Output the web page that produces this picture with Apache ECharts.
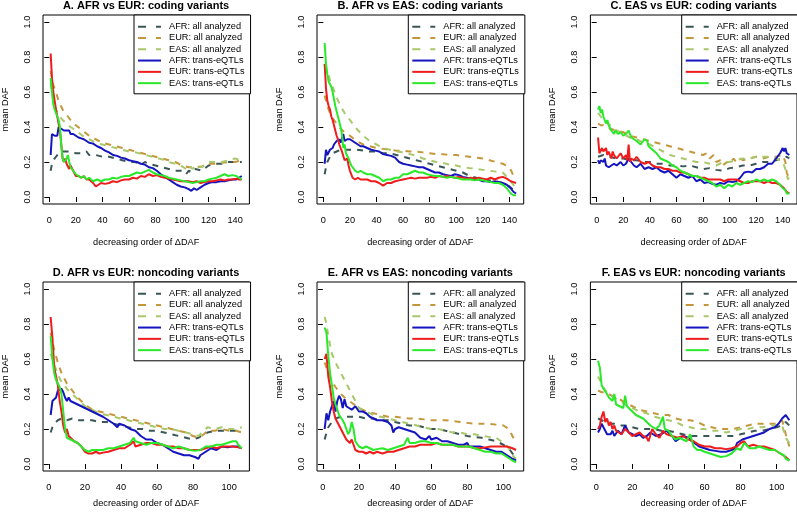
<!DOCTYPE html>
<html><head><meta charset="utf-8">
<script src="https://cdn.jsdelivr.net/npm/echarts@6/dist/echarts.min.js"></script>
<style>html,body{margin:0;padding:0;background:#fff}#c{width:797px;height:514px}</style>
</head><body><div id="c"></div>
<script>
// ---------- labels ----------
const titles = ['A. AFR vs EUR: coding variants','B. AFR vs EAS: coding variants','C. EAS vs EUR: coding variants',
  'D. AFR vs EUR: noncoding variants','E. AFR vs EAS: noncoding variants','F. EAS vs EUR: noncoding variants'];
const seriesNames = ['AFR: all analyzed','EUR: all analyzed','EAS: all analyzed','AFR: trans-eQTLs','EUR: trans-eQTLs','EAS: trans-eQTLs'];
const xTicksCoding = [0,20,40,60,80,100,120,140];
const xTicksNoncoding = [0,20,40,60,80,100];
const yTicks = [0,0.2,0.4,0.6,0.8,1.0];
const nCoding = 145, nNoncoding = 107;
const yName = 'mean DAF', xName = 'decreasing order of \u0394DAF';

// ---------- Panel A ----------
const A_afr_all = [[1,.15],[2,.19],[3,.21],[5,.23],[7,.25],[10,.26],[13,.26],[16,.26],[20,.25],[25,.25],[28,.26],[30,.24],[35,.24],[40,.23],[45,.23],[50,.22],[55,.21],[60,.2],[65,.2],[68,.18],[70,.19],[72,.2],[75,.19],[80,.18],[85,.17],[90,.16],[95,.15],[100,.15],[103,.13],[105,.15],[108,.14],[110,.16],[115,.15],[120,.18],[125,.19],[130,.19],[135,.2],[140,.2],[145,.2]];
const A_eur_all = [[1,.72],[2,.68],[3,.64],[5,.6],[7,.55],[10,.5],[13,.47],[16,.44],[20,.41],[25,.38],[30,.35],[35,.33],[40,.31],[45,.3],[50,.29],[55,.28],[60,.27],[65,.26],[70,.25],[75,.24],[80,.23],[85,.22],[90,.21],[95,.2],[100,.18],[105,.17],[110,.17],[115,.175],[120,.19],[125,.19],[130,.195],[135,.2],[140,.2],[145,.21]];
const A_eas_all = [[1,.65],[2,.6],[3,.56],[5,.5],[7,.47],[10,.44],[13,.42],[16,.4],[20,.38],[25,.35],[30,.33],[35,.31],[40,.3],[45,.29],[50,.28],[55,.27],[60,.26],[65,.255],[70,.245],[75,.235],[80,.225],[85,.215],[90,.2],[95,.19],[100,.175],[103,.16],[105,.18],[108,.16],[110,.18],[115,.17],[120,.2],[125,.2],[130,.2],[135,.21],[140,.22],[145,.21]];
const A_afr_tr = [[1,.24],[2,.36],[3,.36],[4,.35],[5,.355],[6,.35],[7,.4],[8,.41],[9,.39],[10,.4],[11,.38],[12,.39],[13,.38],[14,.37],[15,.38],[16,.36],[18,.36],[20,.35],[22,.34],[24,.335],[26,.33],[28,.32],[30,.31],[33,.305],[36,.29],[39,.28],[42,.265],[45,.255],[48,.24],[51,.235],[54,.225],[57,.22],[60,.21],[63,.205],[66,.2],[69,.19],[72,.185],[75,.17],[78,.165],[81,.15],[84,.13],[87,.115],[90,.1],[93,.085],[96,.07],[99,.06],[102,.055],[105,.045],[107,.035],[109,.05],[111,.04],[114,.055],[117,.07],[120,.08],[123,.085],[126,.085],[129,.09],[132,.09],[135,.095],[138,.1],[141,.1],[143,.11],[145,.12]];
const A_eur_tr = [[1,.82],[2,.68],[3,.6],[4,.55],[5,.5],[6,.46],[7,.42],[8,.38],[9,.3],[10,.22],[11,.2],[12,.22],[13,.19],[14,.2],[15,.16],[16,.18],[18,.15],[20,.12],[22,.12],[24,.11],[26,.12],[28,.1],[30,.1],[33,.08],[35,.06],[37,.07],[39,.08],[42,.075],[45,.08],[48,.09],[51,.085],[54,.095],[57,.1],[60,.1],[63,.11],[66,.105],[69,.12],[72,.115],[75,.13],[78,.12],[81,.125],[84,.115],[87,.11],[90,.105],[93,.1],[96,.095],[99,.09],[102,.09],[105,.09],[108,.085],[111,.09],[114,.08],[117,.085],[120,.09],[123,.09],[126,.095],[129,.1],[132,.095],[135,.1],[138,.1],[141,.105],[143,.1],[145,.1]];
const A_eas_tr = [[1,.68],[2,.6],[3,.53],[4,.5],[5,.48],[6,.46],[7,.44],[8,.4],[9,.3],[10,.22],[11,.2],[12,.21],[13,.22],[14,.24],[15,.2],[16,.17],[18,.15],[20,.13],[22,.12],[24,.11],[26,.12],[28,.1],[30,.11],[33,.09],[36,.1],[39,.09],[42,.1],[45,.1],[48,.11],[51,.105],[54,.115],[57,.12],[60,.12],[63,.13],[66,.14],[69,.135],[72,.145],[75,.155],[78,.14],[81,.13],[84,.125],[87,.12],[90,.11],[93,.105],[96,.1],[99,.095],[102,.09],[105,.085],[108,.08],[111,.085],[114,.09],[117,.09],[120,.1],[123,.105],[126,.11],[129,.12],[132,.13],[135,.12],[138,.125],[141,.12],[143,.11],[145,.1]];

// ---------- Panel B ----------
const B_afr_all = [[1,.13],[2,.17],[3,.2],[5,.23],[7,.25],[10,.26],[13,.27],[16,.27],[20,.27],[25,.27],[30,.265],[35,.26],[40,.26],[45,.25],[50,.25],[55,.24],[60,.23],[65,.22],[70,.21],[75,.2],[80,.19],[85,.18],[90,.17],[95,.16],[100,.15],[105,.14],[110,.12],[115,.11],[120,.1],[125,.095],[130,.09],[135,.08],[140,.06],[143,.04],[145,.04]];
const B_eur_all = [[1,.58],[2,.55],[3,.52],[5,.48],[7,.45],[10,.42],[13,.39],[16,.37],[20,.35],[25,.32],[30,.3],[35,.29],[40,.28],[45,.275],[50,.27],[55,.265],[60,.265],[65,.26],[70,.26],[75,.255],[80,.25],[85,.245],[90,.245],[95,.24],[100,.24],[105,.235],[110,.23],[115,.225],[120,.22],[125,.21],[130,.2],[135,.19],[140,.17],[142,.14],[143,.12],[145,.1]];
const B_eas_all = [[1,.76],[2,.74],[3,.72],[5,.67],[7,.63],[10,.57],[13,.52],[16,.48],[20,.44],[25,.39],[30,.35],[35,.32],[40,.3],[45,.28],[50,.27],[55,.26],[60,.255],[65,.245],[70,.235],[75,.22],[80,.21],[85,.2],[90,.195],[95,.185],[100,.18],[105,.17],[110,.165],[115,.16],[120,.155],[125,.15],[130,.145],[135,.14],[140,.1],[143,.07],[145,.05]];
const B_afr_tr = [[1,.19],[2,.27],[3,.24],[4,.25],[5,.27],[6,.26],[7,.28],[8,.3],[9,.31],[10,.32],[11,.32],[12,.33],[13,.31],[14,.3],[15,.36],[16,.32],[18,.33],[20,.33],[22,.32],[24,.31],[26,.3],[28,.29],[30,.29],[33,.28],[36,.27],[39,.265],[42,.26],[45,.245],[48,.24],[51,.235],[54,.225],[57,.2],[60,.19],[63,.185],[66,.18],[69,.175],[72,.17],[75,.17],[78,.16],[81,.15],[84,.14],[87,.14],[90,.13],[93,.125],[96,.12],[99,.13],[102,.125],[105,.115],[108,.11],[111,.105],[114,.1],[117,.1],[120,.09],[123,.09],[126,.085],[129,.09],[132,.085],[135,.08],[138,.07],[141,.05],[143,.03],[145,.02]];
const B_eur_tr = [[1,.76],[2,.62],[3,.55],[4,.52],[5,.5],[6,.46],[7,.44],[8,.41],[9,.38],[10,.35],[11,.33],[12,.3],[13,.28],[14,.26],[15,.25],[16,.21],[17,.2],[18,.22],[19,.18],[20,.15],[21,.14],[22,.11],[24,.1],[26,.11],[28,.1],[30,.1],[33,.1],[36,.09],[39,.09],[42,.08],[45,.065],[48,.08],[51,.08],[54,.09],[57,.095],[60,.1],[63,.105],[66,.11],[69,.105],[72,.11],[75,.11],[78,.11],[81,.115],[84,.11],[87,.12],[90,.115],[93,.12],[96,.115],[99,.11],[102,.115],[105,.11],[108,.105],[111,.11],[114,.105],[117,.11],[120,.105],[123,.1],[126,.11],[129,.1],[132,.11],[135,.115],[138,.105],[141,.09],[143,.085],[145,.08]];
const B_eas_tr = [[1,.88],[2,.76],[3,.7],[4,.66],[5,.67],[6,.63],[7,.6],[8,.56],[9,.52],[10,.49],[11,.46],[12,.43],[13,.4],[14,.36],[15,.28],[16,.3],[17,.25],[18,.24],[19,.22],[20,.2],[21,.18],[22,.17],[24,.15],[26,.14],[28,.15],[30,.14],[33,.13],[36,.13],[39,.12],[42,.11],[45,.09],[48,.1],[51,.1],[54,.11],[57,.11],[60,.13],[63,.13],[66,.14],[69,.15],[72,.14],[75,.14],[78,.13],[81,.125],[84,.12],[87,.12],[90,.115],[93,.11],[96,.115],[99,.11],[102,.105],[105,.1],[108,.1],[111,.1],[114,.095],[117,.1],[120,.095],[123,.09],[126,.085],[129,.08],[132,.08],[135,.07],[138,.05],[141,.02],[143,.01],[145,.01]];

// ---------- Panel C ----------
const C_afr_all = [[1,.23],[5,.24],[10,.23],[15,.22],[20,.22],[25,.21],[30,.21],[35,.2],[40,.2],[45,.19],[50,.19],[55,.18],[60,.18],[65,.175],[70,.18],[75,.17],[80,.16],[85,.165],[90,.155],[95,.15],[100,.165],[105,.17],[110,.18],[115,.18],[120,.19],[125,.2],[130,.2],[135,.21],[140,.22],[143,.23],[145,.22]];
const C_eur_all = [[1,.42],[3,.41],[5,.41],[10,.39],[15,.38],[20,.37],[25,.35],[30,.34],[35,.33],[40,.32],[45,.31],[50,.3],[55,.29],[60,.28],[65,.27],[70,.26],[75,.25],[80,.24],[83,.25],[85,.22],[88,.24],[90,.2],[93,.21],[95,.18],[98,.2],[100,.19],[103,.22],[105,.2],[108,.22],[110,.21],[115,.22],[120,.23],[125,.22],[130,.23],[135,.23],[140,.24],[142,.2],[143,.14],[145,.1]];
const C_eas_all = [[1,.48],[3,.46],[5,.44],[10,.41],[15,.38],[20,.36],[25,.34],[30,.33],[35,.31],[40,.3],[45,.28],[50,.26],[55,.24],[60,.23],[65,.22],[70,.21],[75,.2],[80,.2],[85,.19],[90,.18],[95,.2],[100,.2],[105,.21],[110,.22],[115,.22],[120,.23],[125,.23],[130,.23],[135,.22],[140,.2],[142,.16],[144,.1],[145,.12]];
const C_afr_tr = [[1,.21],[2,.19],[3,.21],[4,.2],[5,.2],[6,.22],[7,.18],[8,.19],[9,.17],[10,.16],[11,.18],[12,.17],[13,.19],[14,.2],[15,.18],[16,.19],[18,.2],[20,.18],[22,.19],[24,.22],[26,.2],[28,.18],[30,.17],[33,.19],[36,.16],[39,.17],[42,.16],[45,.17],[48,.15],[51,.14],[54,.15],[57,.13],[60,.11],[63,.13],[66,.12],[69,.11],[72,.12],[75,.09],[78,.1],[81,.08],[84,.085],[87,.075],[90,.07],[93,.08],[96,.075],[99,.09],[102,.085],[105,.09],[108,.11],[111,.14],[114,.145],[117,.14],[120,.16],[123,.16],[126,.17],[129,.19],[132,.19],[135,.22],[138,.25],[140,.28],[141,.26],[142,.28],[143,.25],[145,.24]];
const C_eur_tr = [[1,.34],[2,.25],[3,.24],[4,.28],[5,.26],[6,.25],[7,.28],[8,.24],[9,.26],[10,.25],[11,.22],[12,.26],[13,.24],[14,.25],[15,.22],[16,.21],[18,.25],[20,.22],[22,.24],[23,.21],[24,.3],[25,.2],[26,.22],[28,.21],[30,.23],[33,.2],[36,.19],[39,.2],[42,.18],[45,.17],[48,.17],[51,.16],[54,.16],[57,.15],[60,.15],[63,.14],[66,.14],[69,.13],[72,.12],[75,.12],[78,.11],[81,.11],[84,.1],[87,.1],[90,.1],[93,.1],[96,.09],[99,.1],[102,.1],[105,.1],[108,.09],[111,.08],[114,.08],[117,.09],[120,.09],[123,.09],[126,.08],[129,.09],[132,.08],[135,.08],[138,.07],[141,.05],[143,.03],[145,.02]];
const C_eas_tr = [[1,.5],[2,.52],[3,.48],[4,.5],[5,.46],[6,.45],[7,.42],[8,.44],[9,.41],[10,.4],[11,.38],[12,.37],[13,.36],[14,.38],[15,.38],[16,.36],[18,.37],[20,.35],[22,.36],[24,.38],[25,.39],[26,.34],[28,.33],[30,.32],[33,.3],[36,.33],[38,.32],[39,.29],[42,.27],[45,.25],[48,.22],[51,.21],[54,.2],[57,.18],[60,.17],[63,.15],[66,.14],[69,.13],[72,.12],[75,.12],[78,.11],[81,.1],[84,.09],[87,.08],[90,.06],[93,.07],[96,.05],[99,.07],[102,.06],[105,.08],[108,.07],[111,.08],[114,.09],[117,.085],[120,.1],[123,.09],[126,.1],[129,.09],[132,.1],[135,.09],[138,.07],[140,.05],[142,.04],[143,.02],[145,.02]];

// ---------- Panel D ----------
const D_afr_all = [[1,.18],[2,.21],[3,.23],[5,.25],[7,.26],[10,.25],[13,.26],[16,.25],[20,.25],[24,.25],[28,.24],[32,.24],[36,.23],[40,.22],[44,.21],[48,.2],[52,.2],[56,.19],[60,.19],[64,.18],[68,.17],[72,.16],[76,.15],[80,.14],[83,.15],[84,.14],[86,.17],[88,.18],[92,.19],[96,.19],[100,.19],[104,.19],[107,.19]];
const D_eur_all = [[1,.75],[2,.7],[3,.65],[5,.58],[7,.52],[10,.46],[13,.42],[16,.38],[20,.34],[24,.31],[28,.3],[32,.29],[36,.28],[40,.27],[44,.26],[48,.25],[52,.24],[56,.23],[60,.22],[64,.21],[68,.2],[72,.19],[76,.18],[80,.16],[83,.15],[86,.17],[88,.19],[92,.19],[96,.2],[100,.19],[104,.19],[107,.18]];
const D_eas_all = [[1,.63],[2,.6],[3,.57],[5,.51],[7,.47],[10,.43],[13,.4],[16,.37],[20,.33],[24,.31],[28,.29],[32,.28],[36,.27],[40,.26],[44,.25],[48,.24],[52,.23],[56,.22],[60,.21],[64,.2],[68,.2],[72,.19],[76,.18],[80,.17],[83,.16],[86,.19],[88,.21],[92,.2],[96,.21],[100,.2],[104,.2],[107,.21]];
const D_afr_tr = [[1,.28],[2,.36],[3,.35],[4,.38],[5,.42],[6,.43],[7,.43],[8,.41],[9,.38],[10,.36],[11,.38],[12,.36],[14,.35],[16,.34],[18,.33],[20,.32],[22,.31],[24,.3],[26,.29],[28,.28],[30,.27],[33,.25],[36,.23],[38,.21],[39,.23],[42,.22],[45,.2],[48,.19],[51,.16],[54,.14],[57,.14],[60,.12],[63,.11],[66,.09],[69,.07],[72,.06],[75,.05],[78,.05],[81,.04],[83,.03],[84,.05],[87,.07],[90,.09],[93,.08],[96,.1],[99,.095],[102,.1],[105,.1],[107,.09]];
const D_eur_tr = [[1,.84],[2,.72],[3,.55],[4,.5],[5,.45],[6,.36],[7,.3],[8,.22],[9,.18],[10,.2],[11,.16],[12,.15],[14,.13],[16,.12],[18,.1],[20,.07],[22,.06],[24,.06],[26,.07],[28,.06],[30,.065],[33,.07],[36,.08],[39,.09],[42,.09],[45,.11],[47,.13],[48,.1],[51,.11],[54,.12],[57,.12],[60,.11],[63,.11],[66,.1],[69,.1],[72,.09],[75,.09],[78,.08],[81,.08],[84,.08],[87,.09],[90,.1],[93,.09],[96,.1],[99,.1],[102,.1],[105,.095],[107,.09]];
const D_eas_tr = [[1,.73],[2,.6],[3,.52],[4,.48],[5,.46],[6,.44],[7,.4],[8,.3],[9,.2],[10,.15],[11,.15],[12,.14],[14,.13],[16,.12],[18,.1],[20,.08],[22,.07],[24,.08],[26,.08],[28,.08],[30,.08],[33,.09],[36,.09],[39,.1],[42,.11],[45,.12],[47,.15],[48,.13],[51,.12],[54,.11],[57,.12],[60,.12],[63,.11],[66,.1],[69,.09],[72,.1],[75,.09],[78,.08],[81,.075],[84,.08],[87,.1],[90,.1],[93,.11],[96,.11],[99,.12],[102,.13],[104,.13],[105,.11],[107,.09]];

// ---------- Panel E ----------
const E_afr_all = [[1,.14],[2,.18],[3,.21],[5,.24],[7,.26],[10,.27],[13,.27],[16,.27],[20,.27],[24,.26],[28,.26],[32,.25],[36,.25],[40,.24],[44,.23],[48,.22],[52,.22],[56,.21],[60,.2],[64,.2],[68,.19],[72,.18],[76,.17],[80,.16],[84,.155],[88,.15],[92,.14],[96,.13],[100,.11],[103,.09],[105,.06],[107,.05]];
const E_eur_all = [[1,.58],[2,.55],[3,.52],[5,.47],[7,.44],[10,.4],[13,.37],[16,.35],[20,.32],[24,.3],[28,.29],[32,.28],[36,.27],[40,.27],[44,.265],[48,.26],[52,.26],[56,.255],[60,.25],[64,.25],[68,.25],[72,.245],[76,.24],[80,.235],[84,.23],[88,.23],[92,.23],[96,.225],[100,.22],[103,.2],[105,.16],[107,.12]];
const E_eas_all = [[1,.84],[2,.8],[3,.73],[5,.63],[7,.58],[10,.52],[13,.46],[16,.4],[18,.36],[20,.32],[24,.3],[28,.28],[32,.27],[36,.26],[40,.25],[44,.24],[48,.23],[52,.22],[56,.21],[60,.2],[64,.2],[68,.19],[72,.18],[76,.18],[80,.17],[84,.17],[88,.16],[92,.155],[96,.15],[100,.12],[103,.09],[105,.05],[107,.03]];
const E_afr_tr = [[1,.2],[2,.29],[3,.25],[4,.3],[5,.33],[6,.36],[7,.3],[8,.36],[9,.39],[10,.37],[11,.32],[12,.37],[13,.33],[14,.32],[16,.31],[18,.33],[20,.3],[22,.3],[24,.29],[26,.27],[28,.26],[30,.25],[33,.25],[36,.24],[38,.22],[39,.18],[40,.2],[42,.21],[45,.2],[48,.19],[51,.18],[54,.15],[57,.14],[59,.16],[60,.14],[63,.15],[66,.13],[69,.13],[72,.12],[75,.11],[78,.11],[80,.12],[81,.1],[84,.1],[87,.1],[90,.09],[93,.08],[96,.07],[99,.07],[102,.05],[105,.03],[107,.02]];
const E_eur_tr = [[1,.6],[2,.63],[3,.5],[4,.44],[5,.36],[6,.3],[7,.26],[8,.24],[9,.22],[10,.2],[11,.18],[12,.17],[13,.14],[14,.13],[15,.12],[16,.14],[17,.15],[18,.08],[20,.07],[22,.07],[24,.06],[26,.07],[28,.06],[30,.07],[33,.06],[36,.07],[39,.07],[42,.08],[45,.09],[48,.1],[51,.1],[54,.11],[57,.11],[60,.11],[63,.12],[66,.11],[69,.11],[72,.11],[75,.1],[78,.1],[81,.1],[84,.09],[87,.09],[90,.095],[93,.1],[96,.1],[99,.1],[102,.1],[105,.09],[107,.08]];
const E_eas_tr = [[1,.78],[2,.75],[3,.62],[4,.52],[5,.45],[6,.38],[7,.34],[8,.31],[9,.28],[10,.27],[11,.25],[12,.23],[13,.2],[14,.17],[15,.19],[16,.24],[17,.2],[18,.13],[20,.1],[22,.09],[24,.1],[26,.09],[28,.08],[30,.085],[33,.09],[36,.08],[39,.09],[42,.1],[45,.11],[47,.15],[48,.12],[51,.12],[54,.13],[57,.13],[60,.12],[63,.12],[66,.11],[69,.11],[72,.11],[75,.1],[78,.1],[81,.1],[84,.09],[87,.08],[90,.07],[93,.07],[96,.06],[99,.06],[102,.04],[105,.02],[107,.01]];

// ---------- Panel F ----------
const F_afr_all = [[1,.26],[3,.25],[5,.24],[7,.23],[10,.23],[13,.22],[16,.22],[20,.21],[24,.2],[28,.2],[32,.2],[36,.19],[40,.19],[44,.18],[48,.17],[52,.16],[56,.16],[60,.16],[64,.16],[68,.16],[72,.16],[76,.16],[80,.17],[84,.18],[88,.19],[92,.19],[96,.2],[100,.21],[103,.22],[105,.24],[107,.22]];
const F_eur_all = [[1,.42],[3,.41],[5,.41],[7,.4],[10,.38],[13,.37],[16,.35],[20,.33],[24,.31],[28,.3],[32,.29],[36,.28],[40,.28],[44,.26],[48,.25],[52,.25],[56,.24],[60,.22],[64,.21],[68,.2],[72,.2],[76,.2],[80,.21],[84,.22],[88,.23],[92,.23],[96,.23],[100,.23],[103,.25],[105,.17],[107,.1]];
const F_eas_all = [[1,.5],[3,.46],[5,.42],[7,.4],[10,.38],[13,.36],[16,.34],[20,.32],[24,.3],[28,.29],[32,.27],[36,.26],[40,.25],[44,.24],[48,.22],[52,.21],[56,.2],[60,.2],[64,.19],[68,.19],[72,.18],[76,.19],[80,.2],[84,.2],[88,.21],[92,.21],[96,.22],[100,.22],[103,.22],[105,.15],[107,.12]];
const F_afr_tr = [[1,.18],[2,.2],[3,.23],[4,.21],[5,.2],[6,.17],[7,.18],[8,.17],[9,.19],[10,.16],[11,.17],[12,.19],[14,.17],[16,.22],[18,.18],[20,.17],[22,.16],[24,.17],[26,.15],[28,.16],[30,.18],[33,.16],[36,.17],[39,.19],[42,.16],[44,.13],[45,.14],[48,.16],[51,.15],[53,.13],[54,.12],[57,.1],[60,.09],[63,.08],[66,.075],[69,.07],[72,.07],[75,.08],[77,.09],[78,.12],[81,.14],[84,.15],[87,.16],[90,.17],[93,.18],[96,.2],[99,.21],[101,.23],[103,.26],[105,.28],[106,.27],[107,.25]];
const F_eur_tr = [[1,.2],[2,.22],[3,.27],[4,.3],[5,.24],[6,.26],[7,.22],[8,.24],[9,.2],[10,.22],[11,.19],[12,.2],[14,.17],[16,.2],[18,.18],[20,.16],[22,.17],[24,.18],[26,.16],[28,.15],[29,.13],[31,.2],[33,.17],[35,.15],[37,.19],[39,.17],[42,.16],[45,.15],[48,.16],[51,.14],[54,.13],[57,.11],[60,.1],[63,.1],[66,.09],[69,.09],[72,.085],[75,.09],[78,.1],[80,.12],[82,.13],[84,.1],[87,.11],[90,.1],[93,.1],[96,.09],[99,.08],[102,.06],[105,.04],[107,.02]];
const F_eas_tr = [[1,.59],[2,.55],[3,.45],[4,.43],[5,.42],[6,.4],[7,.38],[8,.37],[9,.36],[10,.4],[11,.34],[12,.35],[13,.33],[14,.34],[15,.32],[16,.39],[17,.33],[18,.32],[20,.3],[22,.28],[24,.27],[26,.26],[28,.24],[30,.22],[33,.2],[35,.22],[37,.27],[38,.2],[40,.19],[42,.16],[44,.14],[46,.15],[48,.14],[50,.13],[52,.17],[54,.1],[56,.08],[58,.08],[60,.07],[63,.06],[66,.05],[69,.04],[72,.045],[75,.06],[78,.09],[80,.08],[82,.12],[85,.09],[88,.09],[90,.1],[93,.09],[96,.08],[99,.08],[102,.06],[104,.05],[105,.03],[107,.02]];

const panelSeries = [
  [A_afr_all,A_eur_all,A_eas_all,A_afr_tr,A_eur_tr,A_eas_tr],
  [B_afr_all,B_eur_all,B_eas_all,B_afr_tr,B_eur_tr,B_eas_tr],
  [C_afr_all,C_eur_all,C_eas_all,C_afr_tr,C_eur_tr,C_eas_tr],
  [D_afr_all,D_eur_all,D_eas_all,D_afr_tr,D_eur_tr,D_eas_tr],
  [E_afr_all,E_eur_all,E_eas_all,E_afr_tr,E_eur_tr,E_eas_tr],
  [F_afr_all,F_eur_all,F_eas_all,F_afr_tr,F_eur_tr,F_eas_tr]
];

// ---------- styling / layout ----------
const FONT = '"Liberation Sans", Arial, Helvetica, sans-serif';
const colors = ['#3b5656','#c4973a','#a8c86a','#1515c0','#ee1c1c','#2ae82a'];
const dashed = [true,true,true,false,false,false];
const colLeft = [42.7, 317, 590.4];
const gridW = 206.7, gridH = 189;
const rowTop = [15, 282];
const xNameGap = [34, 28];

const legendData = seriesNames.map((nm, k) => dashed[k]
  ? {name: nm, lineStyle: {type: [8, 10]}} : {name: nm});

const grids = [], xAxes = [], yAxes = [], series = [], titleArr = [], legends = [];
for (let p = 0; p < 6; p++) {
  const r = Math.floor(p / 3), c = p % 3;
  const n = r === 0 ? nCoding : nNoncoding;
  const xt = r === 0 ? xTicksCoding : xTicksNoncoding;
  grids.push({left: colLeft[c], top: rowTop[r], width: gridW, height: gridH,
    show: true, borderColor: '#000', borderWidth: 1, backgroundColor: 'transparent'});
  xAxes.push({type: 'value', gridIndex: p, min: 1 - 0.04 * (n - 1), max: n + 0.04 * (n - 1),
    axisLine: {show: false}, splitLine: {show: false},
    axisTick: {show: true, customValues: xt, length: 5, lineStyle: {color: '#000', width: 1}},
    axisLabel: {customValues: xt, color: '#000', fontSize: 9.2, fontFamily: FONT, margin: 12},
    name: xName, nameLocation: 'middle', nameGap: xNameGap[r],
    nameTextStyle: {color: '#000', fontSize: 9.2, fontFamily: FONT}});
  yAxes.push({type: 'value', gridIndex: p, min: -0.04, max: 1.04,
    axisLine: {show: false}, splitLine: {show: false},
    axisTick: {show: true, customValues: yTicks, length: 5, lineStyle: {color: '#000', width: 1}},
    axisLabel: {customValues: yTicks, rotate: 90, color: '#000', fontSize: 9.2, fontFamily: FONT, margin: 11,
      formatter: v => Number(v).toFixed(1)},
    name: yName, nameLocation: 'middle', nameGap: 33,
    nameTextStyle: {color: '#000', fontSize: 9.2, fontFamily: FONT}});
  panelSeries[p].forEach((d, k) => {
    series.push({type: 'line', name: seriesNames[k], xAxisIndex: p, yAxisIndex: p, data: d,
      symbol: 'none', showSymbol: false, animation: false, silent: true, z: 2 + k,
      lineStyle: {color: colors[k], width: 2, type: dashed[k] ? [6, 6] : 'solid', cap: 'butt'},
      itemStyle: {color: colors[k]}});
  });
  titleArr.push({text: titles[p], left: colLeft[c] + gridW / 2, textAlign: 'center', top: rowTop[r] - 15, padding: 0,
    textStyle: {fontSize: 11, fontWeight: 'bold', color: '#000', fontFamily: FONT, lineHeight: 11}});
  legends.push({show: true, orient: 'vertical', left: colLeft[c] + 91.3, top: rowTop[r],
    data: legendData, selectedMode: false, borderColor: '#000', borderWidth: 1, borderRadius: 0,
    padding: [6, 6, 5, 3], itemGap: 0, itemWidth: 23, itemHeight: 11.3,
    backgroundColor: '#fff',
    itemStyle: {opacity: 0, borderWidth: 0, color: 'transparent'},
    textStyle: {fontSize: 9.2, color: '#000', fontFamily: FONT, lineHeight: 11.3, padding: [0, 0, 0, 3]}});
}

const chart = echarts.init(document.getElementById('c'), null, {renderer: 'canvas'});
chart.setOption({
  animation: false,
  backgroundColor: '#fff',
  title: titleArr,
  legend: legends,
  grid: grids,
  xAxis: xAxes,
  yAxis: yAxes,
  series: series
});
</script>
</body></html>
